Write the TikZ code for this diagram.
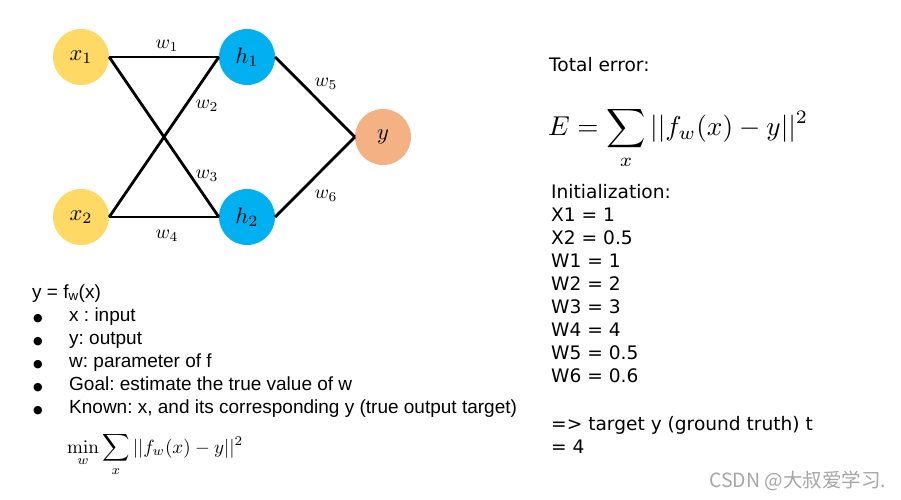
\documentclass[tikz,border=0pt]{standalone}
\usepackage{amsmath}
\usepackage{graphicx}
\usepackage[no-math]{fontspec}
\setmainfont{Liberation Sans}
\newfontfamily\lucida{DejaVu Sans}
\newfontfamily\cjkfont{Noto Sans CJK SC}
\frenchspacing
\definecolor{xcol}{HTML}{FFD966}
\definecolor{hcol}{HTML}{00B0F0}
\definecolor{ycol}{HTML}{F4B183}
\newcommand{\nmath}[1]{\scalebox{2.25}{$#1$}}
\newcommand{\wmath}[1]{\scalebox{1.95}{$#1$}}
\tikzset{
  neuron/.style={circle, minimum size=56pt, inner sep=0pt},
  edge/.style={line width=2.8pt, black},
  wlab/.style={inner sep=0pt},
  lefttext/.style={anchor=base west, inner sep=0pt, font=\fontsize{19}{22}\selectfont},
  righttext/.style={anchor=base west, inner sep=0pt, font=\lucida\fontsize{18.6}{22}\selectfont},
  bul/.style={anchor=base, inner sep=0pt, font=\lucida\fontsize{11}{11}\selectfont}
}
\begin{document}
\begin{tikzpicture}[x=1pt,y=-1pt]
\useasboundingbox[fill=white] (0,0) rectangle (901,499);
% neurons
\node[neuron, fill=xcol] (x1) at (81,57) {\nmath{x_1}};
\node[neuron, fill=xcol] (x2) at (81,217) {\nmath{x_2}};
\node[neuron, fill=hcol] (h1) at (247,57) {\nmath{h_1}};
\node[neuron, fill=hcol] (h2) at (247,217) {\nmath{h_2}};
\node[neuron, fill=ycol] (y) at (383,137) {\nmath{y}};
% edges
\draw[edge] (x1.east) -- (h1.west);
\draw[edge] (x1.east) -- (h2.west);
\draw[edge] (x2.east) -- (h1.west);
\draw[edge] (x2.east) -- (h2.west);
\draw[edge] (h1.east) -- (y.west);
\draw[edge] (h2.east) -- (y.west);
% weight labels
\node[wlab] (w1) at (167,46) {\wmath{w_1}};
\node[wlab] (w2) at (207,106) {\wmath{w_2}};
\node[wlab] (w3) at (207,176) {\wmath{w_3}};
\node[wlab] (w4) at (167,236) {\wmath{w_4}};
\node[wlab] (w5) at (326,84) {\wmath{w_5}};
\node[wlab] (w6) at (326,196) {\wmath{w_6}};
% left text
\node[lefttext] (t0) at (32,298) {y = f\textsubscript{w}(x)};
\foreach \i/\t [count=\k] in {321/x : input, 344/y: output, 367/w: parameter of f, 390/Goal: estimate the true value of w, 413/{Known: x, and its corresponding y (true output target)}}{
  \node[bul] (b\k) at (38,\i) {●};
  \node[lefttext] (t\k) at (69,\i) {\t};
}
\node[anchor=base west, inner sep=0pt] (minf) at (67,453)
  {\resizebox{176pt}{!}{$\displaystyle \min_{w}\sum_{x}||f_w(x)-y||^2$}};
% right text
\node[righttext] (te) at (549,71) {Total error:};
\node[anchor=base west, inner sep=0pt] (ef) at (548,135)
  {\resizebox{260pt}{!}{$\displaystyle E=\sum_{x}||f_w(x)-y||^2$}};
\foreach \i/\t [count=\k] in {198/Initialization:, 221/X1 = 1, 244/X2 = 0.5, 267/W1 = 1, 290/W2 = 2, 313/W3 = 3, 336/W4 = 4, 359/W5 = 0.5, 382/W6 = 0.6, 430/{=> target y (ground truth) t}, 453/= 4}{
  \node[righttext] (r\k) at (551,\i) {\t};
}
% watermark
\node[anchor=base west, inner sep=0pt, text=black!35, font=\cjkfont\fontsize{19.5}{19.5}\selectfont] (wm) at (709,487) {CSDN @大叔爱学习.};
\end{tikzpicture}
\end{document}
